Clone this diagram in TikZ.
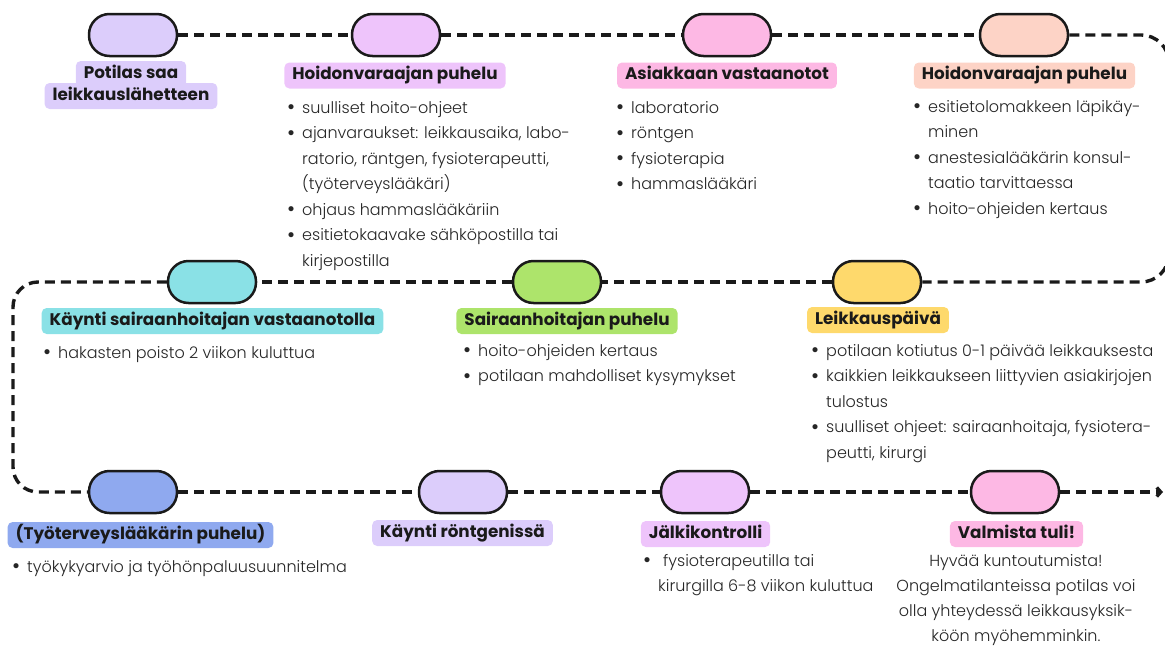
\documentclass[tikz,border=0pt]{standalone}
\usepackage{fontspec}
\usetikzlibrary{arrows.meta}
\setmainfont{Poppins}
\IfFontExistsTF{Poppins Light}{\newfontfamily\bodyfont{Poppins Light}}{\newfontfamily\bodyfont{Poppins}}
\definecolor{cA}{HTML}{DCCDFB}
\definecolor{cB}{HTML}{EEC4FB}
\definecolor{cC}{HTML}{FDB8E4}
\definecolor{cD}{HTML}{FDD3C6}
\definecolor{cE}{HTML}{8AE1E6}
\definecolor{cF}{HTML}{ADE46B}
\definecolor{cG}{HTML}{FED96C}
\definecolor{cH}{HTML}{8FA9EF}
\definecolor{txt}{HTML}{1A1A1A}
\definecolor{bodytxt}{HTML}{262626}
\newcommand\bl{\makebox[15pt][l]{\raisebox{-1.6pt}{\fontsize{22}{22}\selectfont\textbullet}}}
\newcommand\ind{\hspace*{15pt}}
\newcommand\fl{\rule{0pt}{18pt}}
\begin{document}
\begin{tikzpicture}[x=1pt,y=-1pt,
  pill/.style={draw=txt, line width=2.5, fill=#1, rounded corners=20.5, minimum width=88, minimum height=42, inner sep=0},
  lbl/.style={fill=#1, rounded corners=5, inner xsep=8, inner ysep=0, minimum height=26, text height=12, text depth=3.5, font=\fontsize{16.8}{19}\selectfont\bfseries, text=txt},
  lst/.style={inner sep=0, align=left, anchor=north west, font=\bodyfont\fontsize{16}{25.5}\selectfont, text=bodytxt},
  ctr/.style={inner sep=0, align=center, anchor=north, font=\bodyfont\fontsize{16}{25}\selectfont, text=bodytxt},
  dl/.style={line width=3.4, dash pattern=on 10 off 6, draw=txt}]
\useasboundingbox (0,0) rectangle (1165,646);
\clip (0,0) rectangle (1165,646);
% pills
\node[pill=cA] (p1) at (133,35) {};
\node[pill=cB] (p2) at (396,35) {};
\node[pill=cC] (p3) at (727,35) {};
\node[pill=cD] (p4) at (1024,35) {};
\node[pill=cE] (p5) at (212,282) {};
\node[pill=cF] (p6) at (557,282) {};
\node[pill=cG] (p7) at (877,282) {};
\node[pill=cH] (p8) at (133,492) {};
\node[pill=cA] (p9) at (463,492) {};
\node[pill=cB] (p10) at (705,492) {};
\node[pill=cC] (p11) at (1015,492) {};
% corners
\coordinate (rc1) at (1169,35);
\coordinate (rc2) at (1169,282);
\coordinate (lc1) at (13,282);
\coordinate (lc2) at (13,492);
\coordinate (aend) at (1163,492);
% connectors
\draw[dl] (p1.east) -- (p2.west);
\draw[dl] (p2.east) -- (p3.west);
\draw[dl] (p3.east) -- (p4.west);
\draw[dl, rounded corners=28] (p4.east) -- (rc1) -- (rc2) -- (p7.east);
\draw[dl] (p7.west) -- (p6.east);
\draw[dl] (p6.west) -- (p5.east);
\draw[dl, rounded corners=25] (p5.west) -- (lc1) -- (lc2) -- (p8.west);
\draw[dl] (p8.east) -- (p9.west);
\draw[dl] (p9.east) -- (p10.west);
\draw[dl] (p10.east) -- (p11.west);
\draw[dl, -{Straight Barb[length=4pt,width=9pt]}] (p11.east) -- (aend);
% labels
\node[lbl=cA] (l1b) at (131,96) {leikkauslähetteen};
\node[lbl=cA] (l1a) at (131,74) {Potilas saa};
\node[lbl=cB] (l2) at (395,75.5) {Hoidonvaraajan puhelu};
\node[lbl=cC] (l3) at (727,75.5) {Asiakkaan vastaanotot};
\node[lbl=cD] (l4) at (1024.5,75.5) {Hoidonvaraajan puhelu};
\node[lbl=cE] (l5) at (212.5,321) {Käynti sairaanhoitajan vastaanotolla};
\node[lbl=cF] (l6) at (567,321) {Sairaanhoitajan puhelu};
\node[lbl=cG] (l7) at (878,320) {Leikkauspäivä};
\node[lbl=cH] (l8) at (140.5,535) {(Työterveyslääkärin puhelu)};
\node[lbl=cA] (l9) at (462.5,533) {Käynti röntgenissä};
\node[lbl=cB] (l10) at (705.5,534) {Jälkikontrolli};
\node[lbl=cC] (l11) at (1016.5,534) {Valmista tuli!};
% lists
\node[lst] (t2) at (287,95) {\fl\bl suulliset hoito-ohjeet\\
 \bl ajanvaraukset: leikkausaika, labo-\\
 \ind ratorio, räntgen, fysioterapeutti,\\
 \ind (työterveyslääkäri)\\
 \bl ohjaus hammaslääkäriin\\
 \bl esitietokaavake sähköpostilla tai\\
 \ind kirjepostilla};
\node[lst] (t3) at (616,95) {\fl\bl laboratorio\\
 \bl röntgen\\
 \bl fysioterapia\\
 \bl hammaslääkäri};
\node[lst] (t4) at (913,94) {\fl\bl esitietolomakkeen läpikäy-\\
 \ind minen\\
 \bl anestesialääkärin konsul-\\
 \ind taatio tarvittaessa\\
 \bl hoito-ohjeiden kertaus};
\node[lst] (t5) at (43,340) {\fl\bl hakasten poisto 2 viikon kuluttua};
\node[lst] (t6) at (463,338) {\fl\bl hoito-ohjeiden kertaus\\
 \bl potilaan mahdolliset kysymykset};
\node[lst] (t7) at (811,338) {\fl\bl potilaan kotiutus 0-1 päivää leikkauksesta\\
 \bl kaikkien leikkaukseen liittyvien asiakirjojen\\
 \ind tulostus\\
 \bl suulliset ohjeet: sairaanhoitaja, fysiotera-\\
 \ind peutti, kirurgi};
\node[lst] (t8) at (12,554) {\fl\bl työkykyarvio ja työhönpaluusuunnitelma};
\node[lst] (t10) at (643,548) {\fl\bl\hspace*{5pt}fysioterapeutilla tai\\
 \ind kirurgilla 6-8 viikon kuluttua};
\node[ctr] (t11) at (1016,548) {\fl Hyvää kuntoutumista!\\
 Ongelmatilanteissa potilas voi\\
 olla yhteydessä leikkausyksik-\\
 köön myöhemminkin.};
\end{tikzpicture}
\end{document}
